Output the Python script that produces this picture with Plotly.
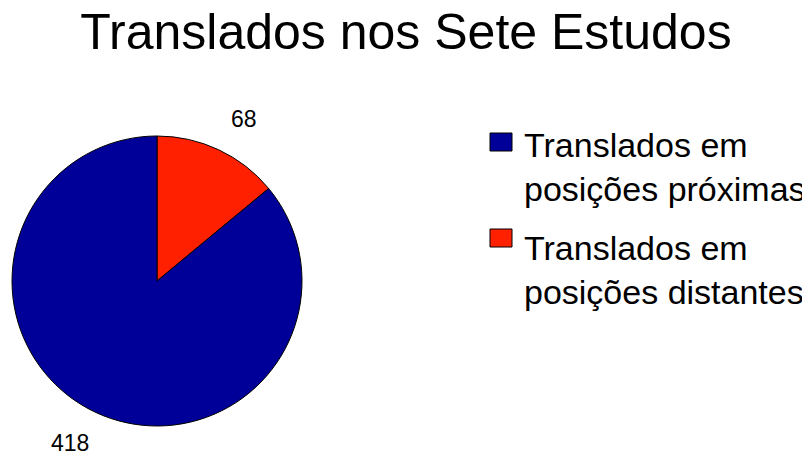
import math
import plotly.graph_objects as go

title = "Translados nos Sete Estudos"
labels = ["Translados em<br>posições distantes", "Translados em<br>posições próximas"]
values = [68, 418]
colors = ["#FF2000", "#000099"]

W, H = 810, 462
FONT = "Liberation Sans, Arial"
OFF = 8  # page body margin offset
cx, cy, r = 157 - OFF, 281 - OFF, 145

fig = go.Figure()
fig.add_trace(go.Pie(
    labels=labels, values=values, sort=False, direction="clockwise", rotation=0,
    marker=dict(colors=colors, line=dict(color="black", width=1)),
    textinfo="none",
    domain=dict(x=[(cx - r) / W, (cx + r) / W], y=[1 - (cy + r) / H, 1 - (cy - r) / H]),
    showlegend=False, hoverinfo="label+value",
))

# value labels outside the slices, at the mid-angle of each slice
total = sum(values)
start = 0.0
for v in values:
    mid = start + v / total * 360 / 2
    start += v / total * 360
    a = math.radians(mid + 2)
    lx = cx + 190 * math.sin(a)
    ly = cy - 182 * math.cos(a)
    fig.add_annotation(x=lx / W, y=1 - ly / H, xref="paper", yref="paper",
                       xanchor="center", yanchor="middle", showarrow=False,
                       text=str(v), font=dict(family=FONT, size=23, color="black"))

# legend (drawn manually to match the large markers)
leg_items = [(labels[1], colors[1], 133, 157), (labels[0], colors[0], 229, 260)]
for text, col, sq_top, base in leg_items:
    fig.add_shape(type="rect", xref="paper", yref="paper",
                  x0=(490 - OFF) / W, x1=(512 - OFF) / W,
                  y0=1 - (sq_top + 18 - OFF) / H, y1=1 - (sq_top - OFF) / H,
                  fillcolor=col, line=dict(color="black", width=1))
    fig.add_annotation(x=(522 - OFF) / W, y=1 - (base - 33 - OFF) / H, xref="paper", yref="paper",
                       xanchor="left", yanchor="top", align="left", showarrow=False,
                       text=text, font=dict(family=FONT, size=34, color="black"))

fig.update_layout(
    width=W, height=H, margin=dict(l=0, r=0, t=0, b=0),
    paper_bgcolor="white", plot_bgcolor="white",
    title=dict(text=title, x=(406 - OFF) / W, xanchor="center", y=1 - (31 - OFF) / H, yanchor="middle",
               font=dict(family=FONT, size=50, color="black")),
)
fig.write_html("out.html")
